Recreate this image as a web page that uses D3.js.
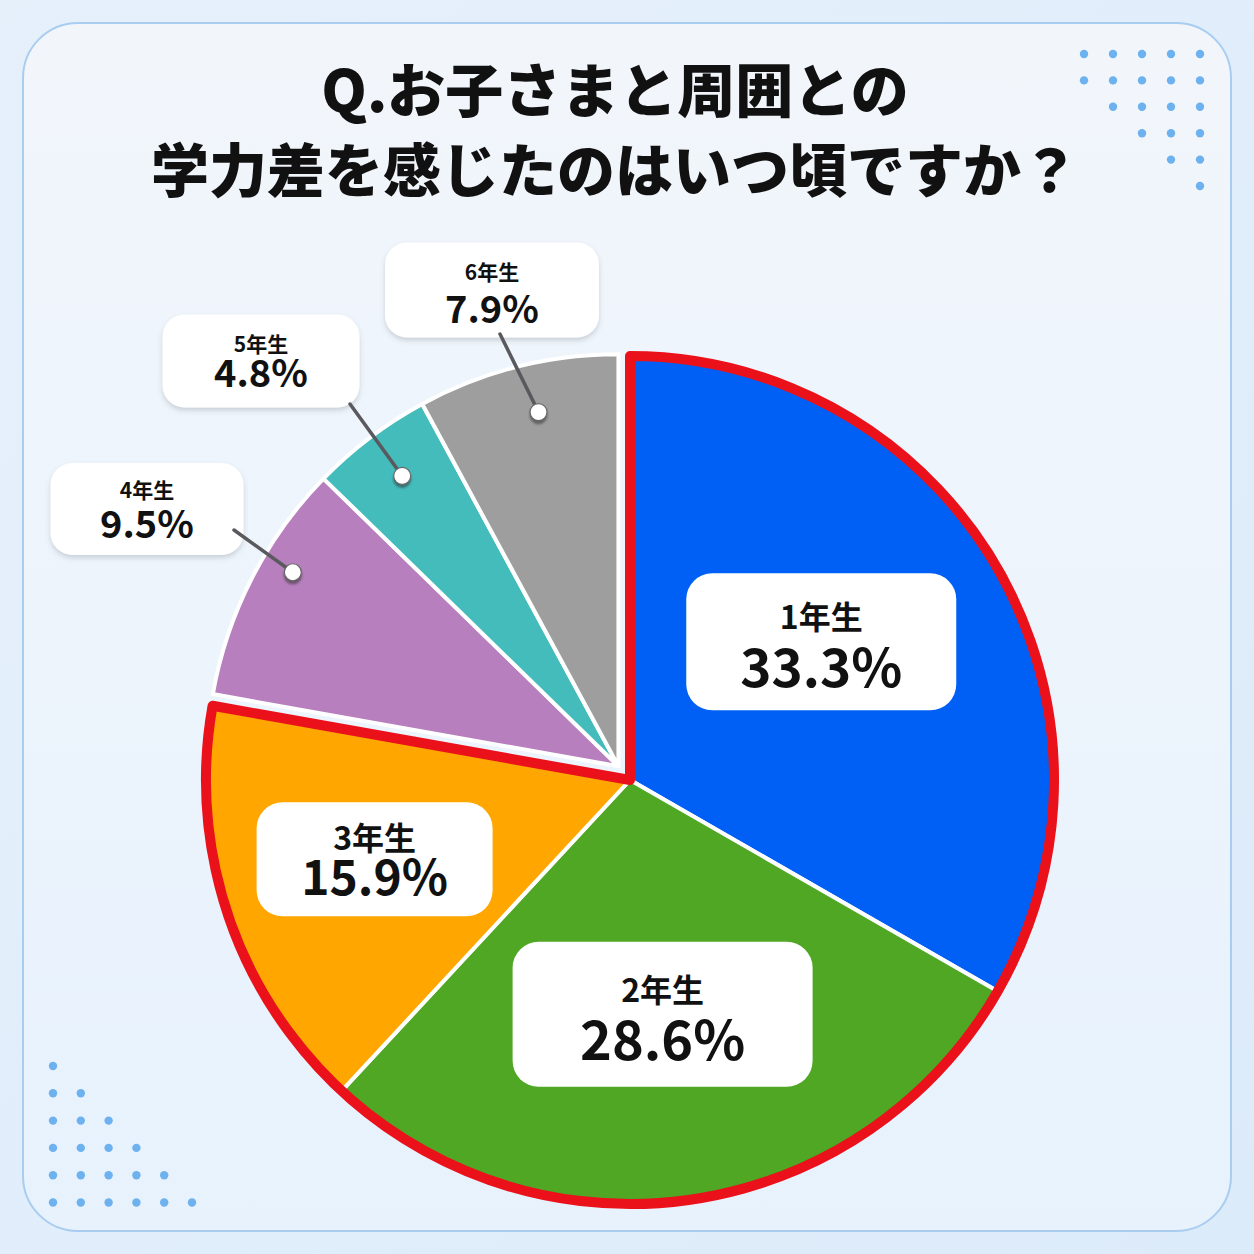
<!DOCTYPE html>
<html><head><meta charset="utf-8">
<script src="https://cdn.jsdelivr.net/npm/d3@7"></script>
<style>
html,body{margin:0;padding:0;background:#e2eefb;}
svg{display:block;}
text{font-family:"Noto Sans CJK JP","Noto Sans",sans-serif;font-weight:700;fill:#111;}
</style></head>
<body>
<svg id="chart" width="1254" height="1254"></svg>
<script>
// ---- data ----
const titleLines = ["Q.お子さまと周囲との", "学力差を感じたのはいつ頃ですか？"];
const categories = ["1年生", "2年生", "3年生", "4年生", "5年生", "6年生"];
const values = [33.3, 28.6, 15.9, 9.5, 4.8, 7.9];
const highlighted = [true, true, true, false, false, false];
const colors = ["#0060f5", "#4fa724", "#ffa600", "#b77fbd", "#45bcbc", "#9e9e9f"];
// decorative dot pattern (dots per row)
const dotsTopRight = [5, 5, 4, 3, 2, 1];
const dotsBottomLeft = [1, 2, 3, 4, 5, 6];

// ---- layout ----
const W = 1254, H = 1254;
const cx = 630, cy = 780;
const rHi = 424, rLo = 412;
const explodeLo = 18;
const innerLabel = [
  {r: 236, w: 270, h: 137, nameSize: 32, pctSize: 53, nameDy: 56, pctDy: 114, dx: -13, dy: -20},
  {r: 237, w: 300, h: 145, nameSize: 32, pctSize: 54, nameDy: 60, pctDy: 118, dx: -3, dy: 0},
  {r: 262, w: 236, h: 114, nameSize: 32, pctSize: 48, nameDy: 48, pctDy: 93, dx: -7, dy: -4}
];
const outerLabel = {
  3: {bx: 147, by: 509, w: 193, h: 92, lx: 234, ly: 530, nameDy: 35, pctDy: 75, dotR: 379, dA: 3.6},
  4: {bx: 261, by: 361, w: 197, h: 93, lx: 350, ly: 404, nameDy: 37, pctDy: 72, dotR: 362, dA: 0.4},
  5: {bx: 492, by: 290, w: 214, h: 95, lx: 500, ly: 334, nameDy: 37, pctDy: 80, dotR: 363, dA: 1.5}
};

const svg = d3.select("#chart");
const defs = svg.append("defs");
const bgGrad = defs.append("linearGradient").attr("id", "bgGrad").attr("x1", 0).attr("y1", 0).attr("x2", 0).attr("y2", 1);
bgGrad.append("stop").attr("offset", "0%").attr("stop-color", "#f2f6fb");
bgGrad.append("stop").attr("offset", "100%").attr("stop-color", "#e7f2fd");
const outGrad = defs.append("linearGradient").attr("id", "outGrad").attr("x1", 0).attr("y1", 0).attr("x2", 1).attr("y2", 1);
outGrad.append("stop").attr("offset", "0%").attr("stop-color", "#e6f0fb");
outGrad.append("stop").attr("offset", "100%").attr("stop-color", "#dcebfa");
const sh = defs.append("filter").attr("id", "shadow").attr("x", "-20%").attr("y", "-20%").attr("width", "140%").attr("height", "150%");
sh.append("feDropShadow").attr("dx", 0).attr("dy", 3).attr("stdDeviation", 2.5).attr("flood-color", "#5a6070").attr("flood-opacity", 0.25);
const dsh = defs.append("filter").attr("id", "dotShadow").attr("x", "-50%").attr("y", "-50%").attr("width", "200%").attr("height", "200%");
dsh.append("feDropShadow").attr("dx", 0).attr("dy", 3).attr("stdDeviation", 1.2).attr("flood-color", "#333").attr("flood-opacity", 0.55);

// background
svg.append("rect").attr("width", W).attr("height", H).attr("fill", "url(#outGrad)");
svg.append("rect").attr("x", 23).attr("y", 23).attr("width", 1208).attr("height", 1208)
  .attr("rx", 55).attr("fill", "url(#bgGrad)").attr("stroke", "#a9cdf0").attr("stroke-width", 2);

// dot decorations
const dotG = svg.append("g").attr("fill", "#6db2ef");
dotsTopRight.forEach((n, row) => {
  for (let i = 0; i < n; i++) {
    const col = 4 - i;
    dotG.append("circle").attr("cx", 1084 + col * 29).attr("cy", 54 + row * 26.4).attr("r", 4.2);
  }
});
dotsBottomLeft.forEach((n, row) => {
  for (let i = 0; i < n; i++) {
    dotG.append("circle").attr("cx", 53 + i * 27.8).attr("cy", 1066 + row * 27.3).attr("r", 4.2);
  }
});

// title
svg.append("g").selectAll("text").data(titleLines).join("text")
  .attr("x", 615).attr("y", (d, i) => 112 + i * 80)
  .attr("text-anchor", "middle").attr("font-size", 58).style("font-weight", 900)
  .text(d => d);

// pie
const data = categories.map((c, i) => ({name: c, value: values[i], hi: highlighted[i], color: colors[i], idx: i}));
const pie = d3.pie().value(d => d.value).sort(null);
const arcs = pie(data);
const arcHi = d3.arc().innerRadius(0).outerRadius(rHi);
const arcLo = d3.arc().innerRadius(0).outerRadius(rLo);

const loArcs = arcs.filter(a => !a.data.hi);
const loMid = (d3.min(loArcs, a => a.startAngle) + d3.max(loArcs, a => a.endAngle)) / 2;
const loOff = [Math.sin(loMid) * explodeLo, -Math.cos(loMid) * explodeLo];

const gLo = svg.append("g").attr("transform", `translate(${cx + loOff[0]},${cy + loOff[1]})`);
gLo.selectAll("path").data(loArcs).join("path")
  .attr("d", arcLo).attr("fill", d => d.data.color)
  .attr("stroke", "#fff").attr("stroke-width", 4).attr("stroke-linejoin", "round");

const gHi = svg.append("g").attr("transform", `translate(${cx},${cy})`);
const hiArcs = arcs.filter(a => a.data.hi);
gHi.selectAll("path.slice").data(hiArcs).join("path").attr("class", "slice")
  .attr("d", arcHi).attr("fill", d => d.data.color)
  .attr("stroke", "#fff").attr("stroke-width", 4).attr("stroke-linejoin", "round");
// red outline around highlighted group
const hiStart = d3.min(hiArcs, a => a.startAngle), hiEnd = d3.max(hiArcs, a => a.endAngle);
gHi.append("path")
  .attr("d", d3.arc().innerRadius(0).outerRadius(rHi)({startAngle: hiStart, endAngle: hiEnd}))
  .attr("fill", "none").attr("stroke", "#ea111b").attr("stroke-width", 10).attr("stroke-linejoin", "round");

// inner labels
hiArcs.forEach((a, k) => {
  const L = innerLabel[k];
  const c = d3.arc().innerRadius(L.r).outerRadius(L.r).centroid(a);
  const x = cx + c[0] + L.dx, y = cy + c[1] + L.dy;
  const g = svg.append("g").attr("transform", `translate(${x - L.w / 2},${y - L.h / 2})`);
  g.append("rect").attr("width", L.w).attr("height", L.h).attr("rx", 26).attr("fill", "#fff");
  g.append("text").attr("x", L.w / 2).attr("y", L.nameDy).attr("text-anchor", "middle")
    .attr("font-size", L.nameSize).text(a.data.name);
  g.append("text").attr("x", L.w / 2).attr("y", L.pctDy).attr("text-anchor", "middle")
    .attr("font-size", L.pctSize).text(a.data.value.toFixed(1) + "%");
});

// outer labels with leader lines
loArcs.forEach(a => {
  const L = outerLabel[a.data.idx];
  const ang = (a.startAngle + a.endAngle) / 2 + L.dA * Math.PI / 180;
  const dx = cx + loOff[0] + Math.sin(ang) * L.dotR, dy = cy + loOff[1] - Math.cos(ang) * L.dotR;
  const g = svg.append("g");
  g.append("rect").attr("x", L.bx - L.w / 2).attr("y", L.by - L.h / 2).attr("width", L.w).attr("height", L.h)
    .attr("rx", 22).attr("fill", "#fff").attr("filter", "url(#shadow)");
  g.append("text").attr("x", L.bx).attr("y", L.by - L.h / 2 + L.nameDy).attr("text-anchor", "middle")
    .attr("font-size", 21).text(a.data.name);
  g.append("text").attr("x", L.bx).attr("y", L.by - L.h / 2 + L.pctDy).attr("text-anchor", "middle")
    .attr("font-size", 38).text(a.data.value.toFixed(1) + "%");
  g.append("line").attr("x1", L.lx).attr("y1", L.ly).attr("x2", dx).attr("y2", dy)
    .attr("stroke", "#5a5a5e").attr("stroke-width", 3.5).attr("stroke-linecap", "round");
  g.append("circle").attr("cx", dx).attr("cy", dy).attr("r", 8.5)
    .attr("fill", "#fff").attr("stroke", "#666").attr("stroke-width", 1.2).attr("filter", "url(#dotShadow)");
});
</script>
</body></html>
